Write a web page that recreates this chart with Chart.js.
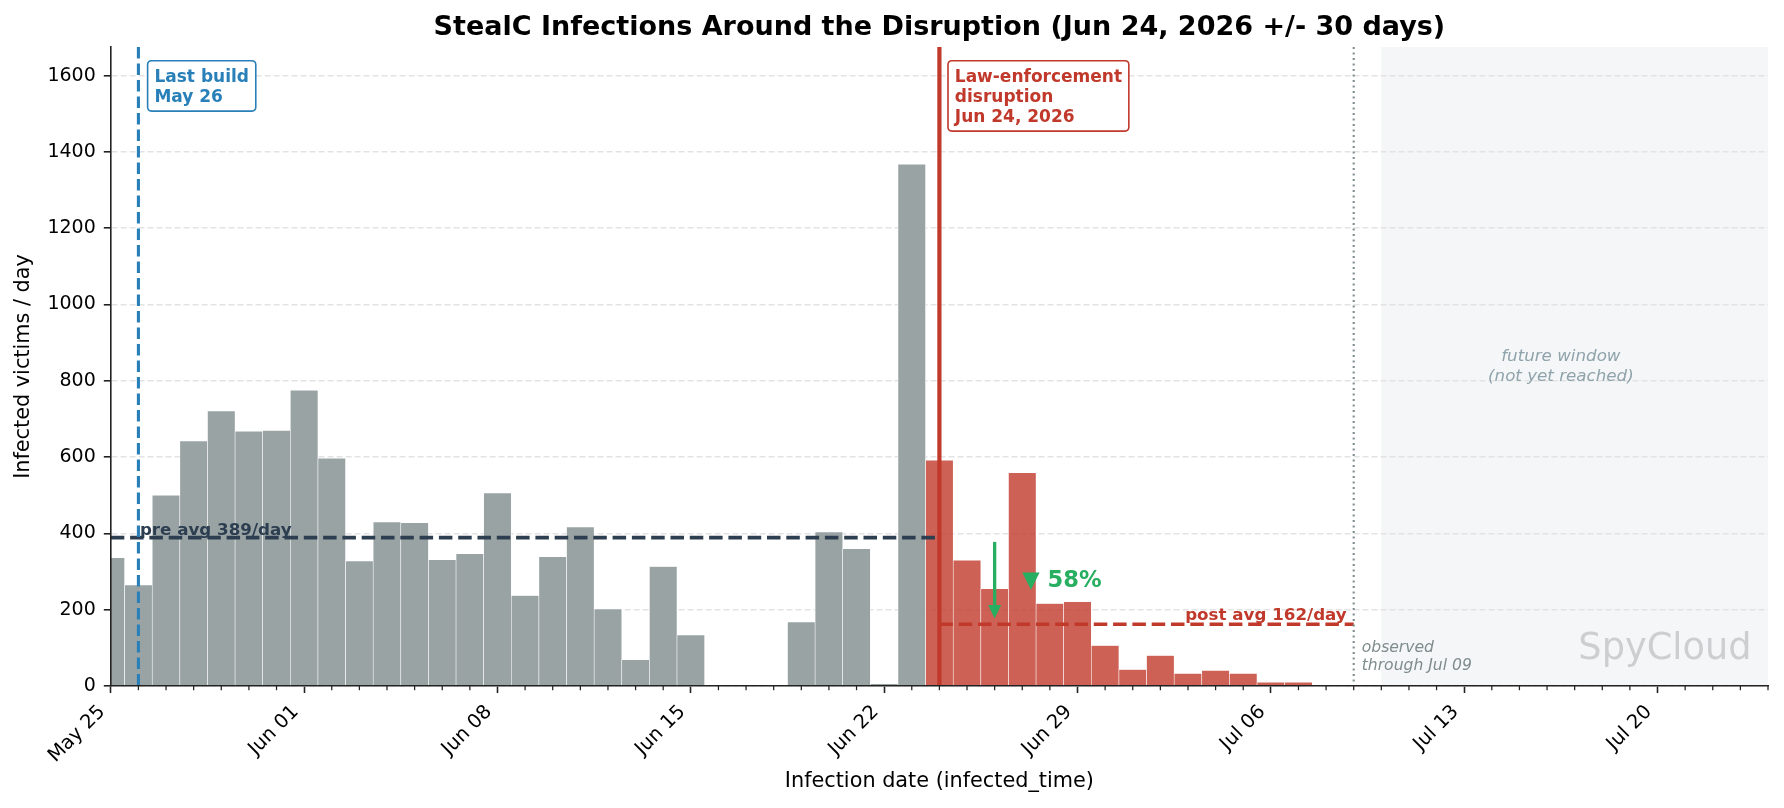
<!DOCTYPE html>
<html><head><meta charset="utf-8">
<script src="https://cdn.jsdelivr.net/npm/chart.js@4.4.1/dist/chart.umd.min.js"></script>
<style>html,body{margin:0;padding:0;background:#fff;}#wrap{width:1784px;height:808px;}canvas{display:block;}</style>
</head><body><div id="wrap"><canvas id="c" width="1784" height="808"></canvas></div>
<script>
// ---------------- data ----------------
const startDate = '2026-05-25';
const endDate = '2026-07-24';
const dates = [
 '2026-05-25','2026-05-26','2026-05-27','2026-05-28','2026-05-29','2026-05-30','2026-05-31',
 '2026-06-01','2026-06-02','2026-06-03','2026-06-04','2026-06-05','2026-06-06','2026-06-07',
 '2026-06-08','2026-06-09','2026-06-10','2026-06-11','2026-06-12','2026-06-13','2026-06-14',
 '2026-06-15','2026-06-16','2026-06-17','2026-06-18','2026-06-19','2026-06-20','2026-06-21',
 '2026-06-22','2026-06-23','2026-06-24','2026-06-25','2026-06-26','2026-06-27','2026-06-28',
 '2026-06-29','2026-06-30','2026-07-01','2026-07-02','2026-07-03','2026-07-04','2026-07-05',
 '2026-07-06','2026-07-07','2026-07-08','2026-07-09'];
const victims = [
 336,265,500,642,721,668,670,
 775,597,328,430,428,331,347,
 506,237,339,417,202,69,313,
 134,0,0,0,168,404,360,
 6,1368,592,330,255,559,216,
 221,106,43,80,33,41,33,
 10,10,0,0];
const xTickDates = ['2026-05-25','2026-06-01','2026-06-08','2026-06-15','2026-06-22','2026-06-29','2026-07-06','2026-07-13','2026-07-20'];
const xTickLabels = ['May 25','Jun 01','Jun 08','Jun 15','Jun 22','Jun 29','Jul 06','Jul 13','Jul 20'];
const yTicks = [0,200,400,600,800,1000,1200,1400,1600];
const yMax = 1675;
const lastBuildDate = '2026-05-26';
const disruptionDate = '2026-06-24';
const observedThrough = '2026-07-09';
const futureStart = '2026-07-10';
const futureLabelDay = 52.5;
const arrowDate = '2026-06-26';
const dropLabelDate = '2026-06-27';
const preAvg = 389;
const postAvg = 162;
const dropPct = 58;
const titleText = 'StealC Infections Around the Disruption (Jun 24, 2026 +/- 30 days)';

// ---------------- helpers ----------------
const DAYMS = 86400000;
const dayIndex = d => Math.round((Date.parse(d + 'T00:00:00Z') - Date.parse(startDate + 'T00:00:00Z')) / DAYMS);
const FONT = '"DejaVu Sans", "Liberation Sans", sans-serif';
const GRAY = '#9aa3a4';
const RED = '#c0392b';
const REDBAR = 'rgba(192,57,43,0.8)';
const NAVY = '#2c3e50';
const BLUE = '#2980b9';
const GREEN = '#27ae60';
const AXIS = '#222222';

const points = dates.map((d, i) => ({x: dayIndex(d), y: victims[i]}));
const barColors = dates.map(d => dayIndex(d) >= dayIndex(disruptionDate) ? REDBAR : GRAY);

function roundRect(ctx, x, y, w, h, r) {
  ctx.beginPath();
  ctx.moveTo(x + r, y);
  ctx.lineTo(x + w - r, y); ctx.quadraticCurveTo(x + w, y, x + w, y + r);
  ctx.lineTo(x + w, y + h - r); ctx.quadraticCurveTo(x + w, y + h, x + w - r, y + h);
  ctx.lineTo(x + r, y + h); ctx.quadraticCurveTo(x, y + h, x, y + h - r);
  ctx.lineTo(x, y + r); ctx.quadraticCurveTo(x, y, x + r, y);
  ctx.closePath();
}
function drawBox(ctx, left, top, lines, color) {
  ctx.font = 'bold 17px ' + FONT;
  const tw = Math.max(...lines.map(l => ctx.measureText(l).width));
  const w = tw + 13.6, h = lines.length * 20 + 10.4;
  roundRect(ctx, left, top, w, h, 4);
  ctx.fillStyle = '#ffffff'; ctx.fill();
  ctx.lineWidth = 1.6; ctx.strokeStyle = color; ctx.stroke();
  ctx.fillStyle = color; ctx.textAlign = 'left'; ctx.textBaseline = 'alphabetic';
  lines.forEach((l, i) => ctx.fillText(l, left + 6.8, top + 20.8 + i * 20));
}
function vline(ctx, xp, a, color, lw, dash) {
  ctx.save(); ctx.strokeStyle = color; ctx.lineWidth = lw; ctx.setLineDash(dash);
  ctx.beginPath(); ctx.moveTo(xp, a.top); ctx.lineTo(xp, a.bottom); ctx.stroke(); ctx.restore();
}
function hline(ctx, x1, x2, yp, color, lw, dash) {
  ctx.save(); ctx.strokeStyle = color; ctx.lineWidth = lw; ctx.setLineDash(dash);
  ctx.beginPath(); ctx.moveTo(x1, yp); ctx.lineTo(x2, yp); ctx.stroke(); ctx.restore();
}

const overlay = {
  id: 'overlay',
  beforeDraw(chart) {
    const {ctx, chartArea: a, scales: {x}} = chart;
    ctx.save();
    ctx.fillStyle = '#ffffff'; ctx.fillRect(0, 0, chart.width, chart.height);
    const xs = x.getPixelForValue(dayIndex(futureStart));
    ctx.fillStyle = 'rgb(244,246,247)';
    ctx.fillRect(xs, a.top, a.right - xs, a.bottom - a.top);
    ctx.restore();
  },
  afterDatasetsDraw(chart) {
    const {ctx, chartArea: a, scales: {x, y}} = chart;
    ctx.save();
    const xDis = x.getPixelForValue(dayIndex(disruptionDate));
    const xObs = x.getPixelForValue(dayIndex(observedThrough));
    const xBuild = x.getPixelForValue(dayIndex(lastBuildDate));
    const yPre = y.getPixelForValue(preAvg);
    const yPost = y.getPixelForValue(postAvg);
    // average lines
    hline(ctx, a.left, xDis, yPre, NAVY, 3.6, [13.5, 5.8]);
    hline(ctx, xDis, xObs, yPost, RED, 3.6, [13.5, 5.8]);
    // vertical markers
    vline(ctx, xBuild, a, BLUE, 3.1, [11.5, 5]);
    vline(ctx, xDis, a, RED, 4.2, []);
    vline(ctx, xObs, a, '#7f8c8d', 2.1, [2.1, 3.4]);
    // avg labels
    ctx.font = 'bold 16.7px ' + FONT;
    ctx.textBaseline = 'alphabetic';
    ctx.fillStyle = NAVY; ctx.textAlign = 'left';
    ctx.fillText('pre avg ' + preAvg + '/day', xBuild + 1.5, yPre - 2.5);
    ctx.fillStyle = RED; ctx.textAlign = 'right';
    ctx.fillText('post avg ' + postAvg + '/day', xObs - 7, yPost - 4);
    // drop arrow
    const ax = x.getPixelForValue(dayIndex(arrowDate));
    const yTail = yPre + 4.3, yTip = yPost - 5.8;
    ctx.strokeStyle = GREEN; ctx.fillStyle = GREEN; ctx.lineWidth = 3.3; ctx.setLineDash([]);
    ctx.beginPath(); ctx.moveTo(ax, yTail); ctx.lineTo(ax, yTip - 10); ctx.stroke();
    ctx.beginPath(); ctx.moveTo(ax, yTip); ctx.lineTo(ax - 6.5, yTip - 13.5); ctx.lineTo(ax + 6.5, yTip - 13.5); ctx.closePath(); ctx.fill();
    ctx.font = 'bold 22.6px ' + FONT; ctx.textAlign = 'left'; ctx.textBaseline = 'middle';
    ctx.fillText('\u25BC ' + dropPct + '%', x.getPixelForValue(dayIndex(dropLabelDate)), y.getPixelForValue((preAvg + postAvg) / 2));
    // annotation boxes
    drawBox(ctx, xBuild + 9.2, a.top + 13.7, ['Last build', 'May 26'], BLUE);
    drawBox(ctx, xDis + 8.6, a.top + 13.7, ['Law-enforcement', 'disruption', 'Jun 24, 2026'], RED);
    // future window text
    ctx.font = 'italic 16.7px ' + FONT; ctx.fillStyle = '#8fa3ab'; ctx.textAlign = 'center'; ctx.textBaseline = 'middle';
    const fx = x.getPixelForValue(futureLabelDay), fy = y.getPixelForValue(yMax / 2);
    ctx.fillText('future window', fx, fy - 10.3);
    ctx.fillText('(not yet reached)', fx, fy + 10.3);
    // observed through
    ctx.font = 'italic 15.6px ' + FONT; ctx.fillStyle = '#7f8c8d'; ctx.textAlign = 'left';
    const oy = y.getPixelForValue(100);
    ctx.fillText('observed', xObs + 8, oy);
    ctx.fillText('through Jul 09', xObs + 8, oy + 18);
    // watermark
    ctx.font = '36.7px ' + FONT; ctx.fillStyle = 'rgb(204,206,208)'; ctx.textAlign = 'right'; ctx.textBaseline = 'alphabetic';
    ctx.fillText('SpyCloud', a.left + 0.99 * (a.right - a.left), a.bottom - 26.7);
    ctx.restore();
  },
  afterDraw(chart) {
    const {ctx, chartArea: a, scales: {x}} = chart;
    ctx.save();
    // minor ticks (daily)
    const majors = xTickDates.map(dayIndex);
    ctx.strokeStyle = AXIS; ctx.lineWidth = 1.25;
    for (let d = dayIndex(startDate); d <= dayIndex(endDate); d++) {
      if (majors.includes(d)) continue;
      const xp = x.getPixelForValue(d);
      ctx.beginPath(); ctx.moveTo(xp, a.bottom); ctx.lineTo(xp, a.bottom + 4.2); ctx.stroke();
    }
    // title
    ctx.font = 'bold 27px ' + FONT; ctx.fillStyle = '#000'; ctx.textAlign = 'center'; ctx.textBaseline = 'alphabetic';
    ctx.fillText(titleText, (a.left + a.right) / 2, 34.5);
    ctx.restore();
  }
};

Chart.defaults.font.family = FONT;
new Chart(document.getElementById('c'), {
  type: 'bar',
  data: {
    datasets: [{
      data: points,
      backgroundColor: barColors,
      borderColor: '#ffffff',
      borderWidth: {top: 0.6, left: 0.6, right: 0.6, bottom: 0},
      borderSkipped: 'start',
      barPercentage: 1,
      categoryPercentage: 1,
      clip: 0
    }]
  },
  options: {
    responsive: false,
    animation: false,
    devicePixelRatio: 1,
    layout: {padding: {top: 47, right: 16, bottom: 0, left: 0}},
    plugins: {legend: {display: false}, tooltip: {enabled: false}, title: {display: false}},
    scales: {
      x: {
        type: 'linear',
        min: dayIndex(startDate),
        max: dayIndex(endDate),
        offset: false,
        afterFit: s => { s.height = 122; },
        afterBuildTicks: s => { s.ticks = xTickDates.map(d => ({value: dayIndex(d)})); },
        grid: {display: true, drawOnChartArea: false, drawTicks: true, tickLength: 7, tickColor: AXIS, tickWidth: 1.6, offset: false},
        border: {display: true, color: AXIS, width: 1.6, z: 1},
        ticks: {
          autoSkip: false, minRotation: 45, maxRotation: 45, padding: 7.5, labelOffset: -8.5,
          color: '#000', font: {size: 19.5},
          callback: (v, i) => xTickLabels[i]
        },
        title: {display: true, text: 'Infection date (infected_time)', color: '#000', font: {size: 20.8}, padding: {top: 0, bottom: 13.5}}
      },
      y: {
        type: 'linear',
        min: 0,
        max: yMax,
        afterFit: s => { s.width = 110.8; },
        afterBuildTicks: s => { s.ticks = yTicks.map(v => ({value: v})); },
        grid: {display: true, drawOnChartArea: true, color: '#e3e3e3', lineWidth: 1.6, drawTicks: true, tickLength: 7, tickColor: AXIS, tickWidth: 1.6, tickBorderDash: []},
        border: {display: true, color: AXIS, width: 1.6, dash: [6, 3], z: 1},
        ticks: {padding: 8, color: '#000', font: {size: 19}, callback: v => String(v)},
        title: {display: true, text: 'Infected victims / day', color: '#000', font: {size: 20.8}, padding: {top: 11.5, bottom: 0}}
      }
    }
  },
  plugins: [overlay]
});
</script></body></html>
